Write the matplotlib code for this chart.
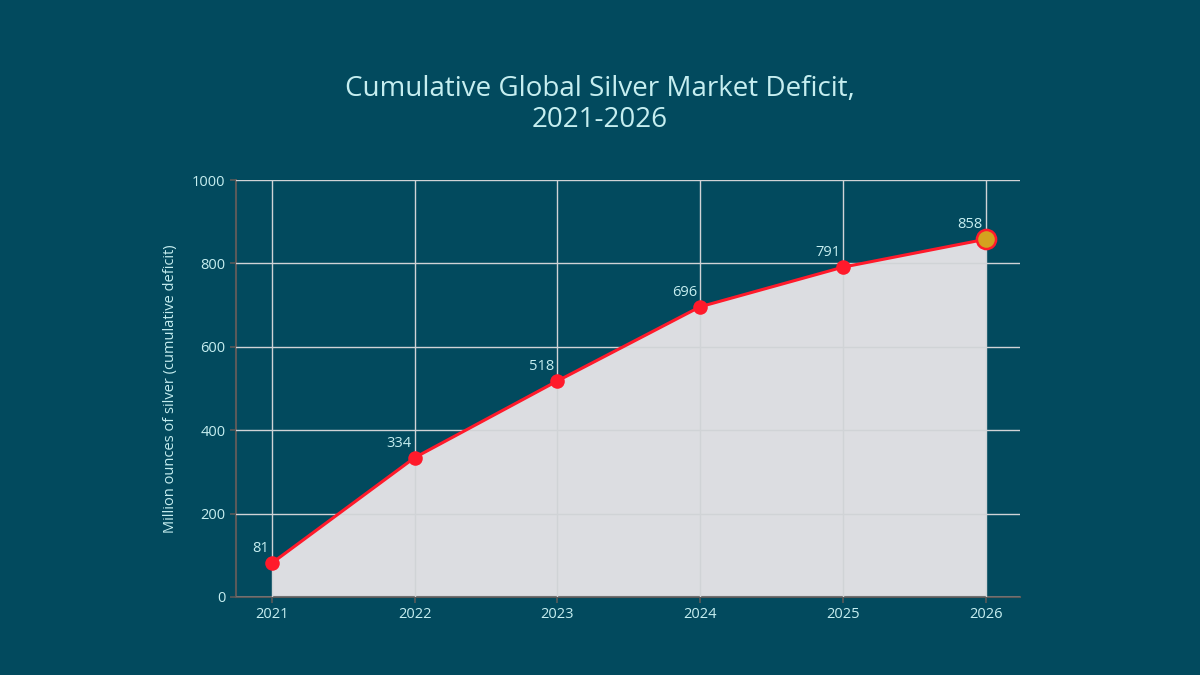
"""Cumulative global silver market deficit, 2021-2026."""

import matplotlib

matplotlib.use("Agg")
import matplotlib.pyplot as plt

years = [2021, 2022, 2023, 2024, 2025, 2026]
deficit = [81, 334, 518, 696, 791, 858]
y_ticks = [0, 200, 400, 600, 800, 1000]

BG = "#024a5e"
TEXT = "#c6eef0"
LINE = "#ff1a2b"
FILL = "#dcdde1"
GRID = "#d0d3d6"
SPINE = "#5a5a5a"

plt.rcParams["font.family"] = ["Open Sans", "DejaVu Sans"]

fig = plt.figure(figsize=(12, 6.75), dpi=100, facecolor=BG)
ax = fig.add_axes([0.1967, 0.1156, 0.6533, 0.6177])
ax.set_facecolor(BG)

ax.fill_between(years, deficit, 0, color=FILL, zorder=1, linewidth=0)
ax.grid(True, color=GRID, linewidth=1, zorder=2)
ax.set_axisbelow(False)
ax.plot(years, deficit, color=LINE, linewidth=2.2, zorder=3)
ax.scatter(years[:-1], deficit[:-1], s=110, color=LINE, zorder=4, linewidths=0)
ax.scatter(years[-1:], deficit[-1:], s=190, color="#d4a21f",
           edgecolors=LINE, linewidths=1.8, zorder=4)

for x, y in zip(years, deficit):
    ax.annotate(str(y), (x, y), xytext=(-2, 5), textcoords="offset points",
                ha="right", va="bottom", color=TEXT, fontsize=10.5, zorder=5)

ax.set_xlim(2020.75, 2026.24)
ax.set_ylim(0, 1000)
ax.set_xticks(years)
ax.set_yticks(y_ticks)

for side in ("top", "right"):
    ax.spines[side].set_visible(False)
for side in ("left", "bottom"):
    ax.spines[side].set_color(SPINE)
    ax.spines[side].set_linewidth(1.5)

ax.tick_params(colors=SPINE, labelcolor=TEXT, labelsize=10.5, length=4, width=1.2)
ax.set_ylabel("Million ounces of silver (cumulative deficit)", color=TEXT,
              fontsize=10.5, labelpad=10)

fig.text(0.5, 0.845, "Cumulative Global Silver Market Deficit,\n2021-2026",
         ha="center", va="center", color=TEXT, fontsize=20, linespacing=1.15)

fig.savefig("out.png", facecolor=BG)
